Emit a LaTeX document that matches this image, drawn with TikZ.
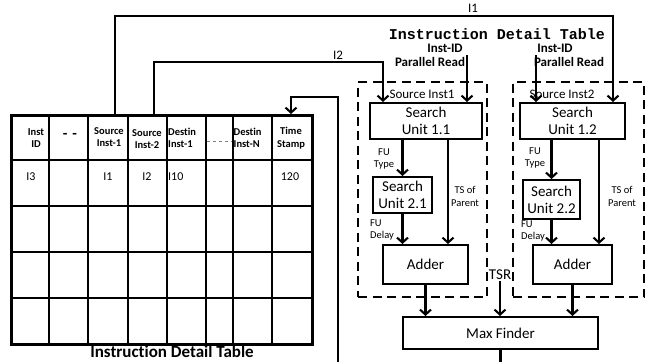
\documentclass[tikz,border=0pt]{standalone}
\usepackage{fontspec}
\setmainfont{Carlito}[Ligatures=NoCommon]
\newfontfamily\monofont{Liberation Mono}
\usetikzlibrary{arrows.meta, positioning}

\begin{document}
\begin{tikzpicture}[x=1pt, y=-1pt,
  unit/.style={draw, line width=2pt, align=center, inner sep=0pt,
               font=\fontsize{15}{17}\selectfont},
  grp/.style={draw, line width=2.4pt, dash pattern=on 9pt off 5.5pt, inner sep=0pt},
  wire/.style={line width=2.1pt},
  arr/.style={wire, -{Straight Barb[length=5pt, width=11pt]}},
  hd/.style={font=\bfseries\fontsize{10.5}{12.5}\selectfont, align=center, inner sep=0pt},
  cell/.style={font=\fontsize{12}{14}\selectfont, inner sep=0pt},
  lbl/.style={font=\fontsize{10.5}{12.5}\selectfont, align=center, inner sep=0pt},
  note/.style={font=\fontsize{13}{15}\selectfont, inner sep=0pt},
  bnote/.style={font=\bfseries\fontsize{13}{15}\selectfont, inner sep=0pt},
]
\useasboundingbox (0,0) rectangle (647,362);

% table
\foreach \x in {49,88,128,167,206,233,272}
  \draw[line width=1.1pt] (\x,114) -- (\x,343);
\foreach \y in {160,206,252,298}
  \draw[line width=1.1pt] (10,\y) -- (311,\y);
\node[draw, line width=2.5pt, minimum width=301pt, minimum height=229pt,
      inner sep=0pt, anchor=north west] (tbl) at (10,114) {};
\node[hd] (hid) at (36,138) {Inst\\ID};
\node[hd, font=\bfseries\fontsize{15}{16}\selectfont] (hdash) at (70,136) {-\,\,-};
\node[hd] (hs1) at (109,137) {Source\\Inst-1};
\node[hd] (hs2) at (147,139) {Source\\Inst-2};
\node[hd, align=left, anchor=west] (hd1) at (168,138) {Destin\\Inst-1};
\node[hd, align=left, anchor=west] (hdn) at (233.5,138) {Destin\\Inst-N};
\node[hd] (hts) at (291,138) {Time\\Stamp};
\draw[gray, line width=0.7pt, dashed] (207,141) -- (232,141);
\node[cell] (v1) at (31,177) {I3};
\node[cell] (v3) at (108,177) {I1};
\node[cell] (v4) at (147,177) {I2};
\node[cell, anchor=west] (v5) at (168,177) {I10};
\node[cell] (v8) at (290,177) {120};
\node[font=\bfseries\fontsize{17}{19}\selectfont, inner sep=0pt] (ttl) at (172,351.5) {Instruction Detail Table};

% detail table read side
\node[font=\monofont\bfseries\fontsize{15}{16}\selectfont, inner sep=0pt] (mttl) at (497,34) {Instruction Detail Table};
\node[bnote] (id1) at (445,48.5) {Inst-ID};
\node[bnote] (pr1) at (430,62) {Parallel Read};
\node[bnote] (id2) at (555,48.5) {Inst-ID};
\node[bnote] (pr2) at (569,62) {Parallel Read};

% groups
\node[grp, minimum width=129pt, minimum height=215pt] (grp1) at (422.5,189.5) {};
\node[grp, minimum width=131pt, minimum height=215pt] (grp2) at (578.5,189.5) {};
\node[note] (src1) at (422,94) {Source Inst1};
\node[note] (src2) at (562,94) {Source Inst2};

% units
\node[unit, minimum width=112pt, minimum height=36pt] (su11) at (426,121) {Search\\Unit 1.1};
\node[unit, minimum width=105pt, minimum height=36pt] (su12) at (572.5,121) {Search\\Unit 1.2};
\node[unit, minimum width=59pt, minimum height=36pt] (su21) at (402.5,195) {Search\\Unit 2.1};
\node[unit, minimum width=57pt, minimum height=39pt] (su22) at (551.5,199.5) {Search\\Unit 2.2};
\node[unit, minimum width=85pt, minimum height=39pt] (add1) at (425.5,264.5) {Adder};
\node[unit, minimum width=79pt, minimum height=39pt] (add2) at (572.5,264.5) {Adder};
\node[unit, minimum width=195pt, minimum height=32pt] (maxf) at (500.5,333) {Max Finder};
\node[font=\fontsize{15}{17}\selectfont, inner sep=1pt] (tsr) at (500,275) {TSR};

% inputs from table
\coordinate (t1) at (115,114);
\coordinate (c1) at (613,16);
\coordinate (t2) at (154,114);
\coordinate (c2) at (383,62);
\draw[arr] (t1) |- (c1) -- (c1 |- su12.north);
\draw[arr] (t2) |- (c2) -- (c2 |- su11.north);
\node[note] (li1) at (473,8) {I1};
\node[note] (li2) at (338,55) {I2};
\coordinate (r1) at (467,55);
\coordinate (r2) at (536,55);
\draw[arr] (r1) -- (r1 |- su11.north);
\draw[arr] (r2) -- (r2 |- su12.north);

% inside groups
\draw[arr] (su21.north |- su11.south) -- (su21.north);
\draw[arr] (su22.north |- su12.south) -- (su22.north);
\draw[arr] (su21.south) -- (su21.south |- add1.north);
\draw[arr] (su22.south) -- (su22.south |- add2.north);
\coordinate (ts1) at (448,0);
\coordinate (ts2) at (599,0);
\draw[arr] (ts1 |- su11.south) -- (ts1 |- add1.north);
\draw[arr] (ts2 |- su12.south) -- (ts2 |- add2.north);
\node[lbl] (ft1) at (384,159) {FU\\Type};
\node[lbl] (ft2) at (535,158) {FU\\Type};
\node[lbl, align=left] (fd1) at (382,230) {FU\\Delay};
\node[lbl, align=left] (fd2) at (533,231) {FU\\Delay};
\node[lbl] (tp1) at (465,196.5) {TS of\\Parent};
\node[lbl] (tp2) at (622,196.5) {TS of\\Parent};

% max finder
\draw[arr] (add1.south) -- (add1.south |- maxf.north);
\draw[arr] (add2.south) -- (add2.south |- maxf.north);
\draw[arr] (tsr.south) -- (tsr.south |- maxf.north);
\coordinate (bot) at (500.5,362);
\draw[wire] (maxf.south) -- (bot);
\coordinate (fb) at (338,362);
\coordinate (fbt) at (338,97);
\coordinate (tsin) at (291,114);
\draw[arr] (fb) -- (fbt) -| (tsin);
\end{tikzpicture}
\end{document}
